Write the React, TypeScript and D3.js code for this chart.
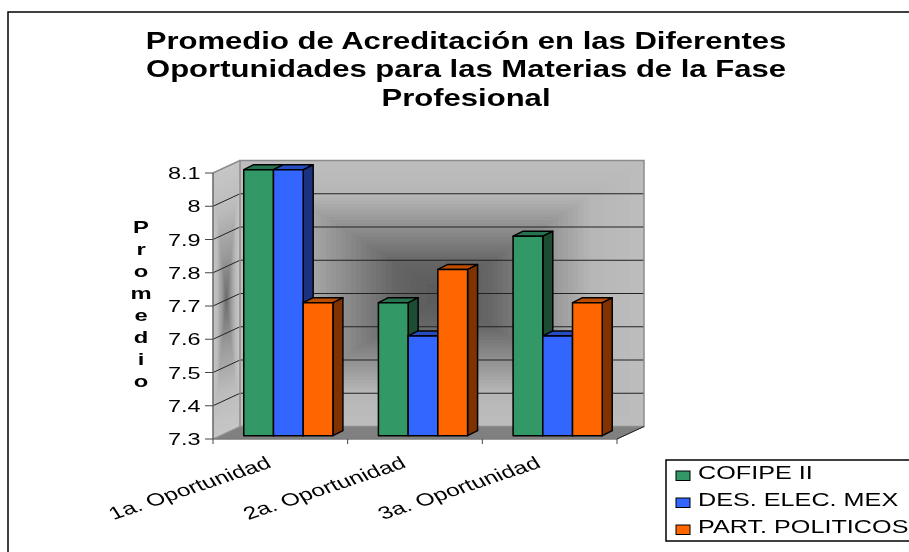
import React from "react";
import * as d3 from "d3";

const categories = ["1a. Oportunidad", "2a. Oportunidad", "3a. Oportunidad"];
const seriesNames = ["COFIPE II", "DES. ELEC. MEX", "PART. POLITICOS"];
const cofipe = [8.1, 7.7, 7.9];
const desElec = [8.1, 7.6, 7.6];
const partPol = [7.7, 7.8, 7.7];
const yTicks = [7.3, 7.4, 7.5, 7.6, 7.7, 7.8, 7.9, 8, 8.1];
const titleLines = [
  "Promedio de Acreditación en las Diferentes",
  "Oportunidades para las Materias de la Fase",
  "Profesional",
];
const axisLetters = ["P", "r", "o", "m", "e", "d", "i", "o"];
const fronts = ["#339966", "#3366FF", "#FF6600"];
const tops = ["#267350", "#264DBF", "#BF4D00"];
const sides = ["#1A4D33", "#1A3380", "#803300"];

const W = 909, H = 552;
const FONT = "'Liberation Sans', Arial, sans-serif";
const x0 = 213, x1 = 617, yB = 439, yT = 173;
const dx = 27, dy = -12.5;

const y = d3.scaleLinear().domain([7.3, 8.1]).range([yB, yT]);
const band = d3.scaleBand<string>().domain(categories).range([x0, x1]).paddingInner(0.338).paddingOuter(0.169);
const inner = d3.scaleBand<string>().domain(seriesNames).range([0, band.bandwidth()]);
const series = [cofipe, desElec, partPol];
const barDx = 8, barDy = -3.3, depthX = 10, depthY = -5;

const ramp = d3.scaleLinear<string>().domain([0, 0.25, 0.5, 0.75, 1]).range(["#bdbdbd", "#b6b6b6", "#8e8e8e", "#666666", "#585858"]);
const sideRamp = d3.scaleLinear<string>().domain([0, 0.3, 0.65, 1]).range(["#c6c6c6", "#bcbcbc", "#9a9a9a", "#6a6a6a"]);
const steps = d3.range(0, 1, 1 / 40);

const poly = (pts: [number, number][]) => pts.map((p) => p.join(",")).join(" ");

export default function App() {
  const wallL = x0 + dx, wallR = x1 + dx, wallT = yT + dy, wallB = yB + dy;
  const cx = (wallL + wallR) / 2, cy = (wallT + wallB) / 2;
  return (
    <svg width={W} height={H} viewBox={`0 0 ${W} ${H}`} style={{ position: "absolute", left: 0, top: 0, display: "block" }} fontFamily={FONT}>
      <defs>
        <filter id="soft" x="0" y="0" width="100%" height="100%">
          <feGaussianBlur stdDeviation="0.4" />
        </filter>
      </defs>
      <rect x={0} y={0} width={W} height={H} fill="#fff" />
      <g filter="url(#soft)">
        <rect x={0} y={0} width={W} height={H} fill="#fff" />
        <rect x={8} y={12} width={W + 10} height={H + 10} fill="#fff" stroke="#000" strokeWidth={1.5} />
        {titleLines.map((t, i) => (
          <text key={t} transform={`translate(466,${48.5 + i * 28.5}) scale(1.35,1)`} textAnchor="middle" fontSize={23} fontWeight="bold" fill="#000">{t}</text>
        ))}

        {/* back wall: rectangular gradient */}
        <rect x={wallL} y={wallT} width={wallR - wallL} height={wallB - wallT} fill={ramp(0)} />
        {steps.map((t) => (
          <rect key={t} x={wallL + t * (cx - wallL)} y={wallT + t * (cy - wallT)}
            width={(wallR - wallL) * (1 - t)} height={(wallB - wallT) * (1 - t)} fill={ramp(t)} />
        ))}
        {/* side wall */}
        <polygon points={poly([[x0, yT], [wallL, wallT], [wallL, wallB], [x0, yB]])} fill={sideRamp(0)} />
        {steps.map((t) => {
          const l = t * 0.5, sx = x0 + l * dx, ex = wallL - l * dx;
          const s = (v: number) => dy * ((v - x0) / dx);
          const top = yT + l * (yB - yT), bot = yB - l * (yB - yT);
          return <polygon key={t} points={poly([[sx, top + s(sx)], [ex, top + s(ex)], [ex, bot + s(ex)], [sx, bot + s(sx)]])} fill={sideRamp(t)} />;
        })}
        {/* floor */}
        <polygon points={poly([[x0, yB], [wallL, wallB], [wallR, wallB], [x1, yB]])} fill="#808080" stroke="#808080" />
        {/* gridlines */}
        {yTicks.filter((v) => v !== 7.3 && v !== 8.1).map((v) => (
          <polyline key={v} fill="none" stroke="#222" strokeWidth={1} points={poly([[x0, y(v)], [wallL, y(v) + dy], [wallR, y(v) + dy]])} />
        ))}
        <rect x={wallL} y={wallT} width={wallR - wallL} height={wallB - wallT} fill="none" stroke="#8c8c8c" strokeWidth={1.5} />
        <polyline points={poly([[x0, yT], [wallL, wallT]])} fill="none" stroke="#8c8c8c" strokeWidth={1.5} />
        <polyline points={poly([[x1, yB], [wallR, wallB]])} fill="none" stroke="#222" strokeWidth={1} />
        <polyline points={poly([[x0, yB], [wallL, wallB]])} fill="none" stroke="#999" strokeWidth={1} />

        {/* bars */}
        {categories.map((c, ci) => (
          <g key={c}>
            {seriesNames.map((s, si) => {
              const v = series[si][ci];
              const bx = band(c)! + inner(s)! + barDx;
              const bw = inner.bandwidth();
              const by = y(v) + barDy, b0 = y(7.3) + barDy;
              return (
                <g key={s} stroke="#000" strokeWidth={1.5} strokeLinejoin="round">
                  <polygon points={poly([[bx + bw, by], [bx + bw + depthX, by + depthY], [bx + bw + depthX, b0 + depthY], [bx + bw, b0]])} fill={sides[si]} />
                  <polygon points={poly([[bx, by], [bx + depthX, by + depthY], [bx + bw + depthX, by + depthY], [bx + bw, by]])} fill={tops[si]} />
                  <rect x={bx} y={by} width={bw} height={b0 - by} fill={fronts[si]} />
                </g>
              );
            })}
          </g>
        ))}

        {/* axes */}
        <line x1={x0} x2={x0} y1={yT} y2={yB} stroke="#666" strokeWidth={1.5} />
        <line x1={x0} x2={x1} y1={yB} y2={yB} stroke="#777" strokeWidth={1.2} />
        {yTicks.map((v) => (
          <g key={v}>
            <line x1={x0 - 8} x2={x0} y1={y(v)} y2={y(v)} stroke="#444" strokeWidth={1} />
            <text transform={`translate(200.5,${y(v) + 6}) scale(1.38,1)`} textAnchor="end" fontSize={17} fill="#000">{d3.format("~r")(v)}</text>
          </g>
        ))}
        {d3.range(0, categories.length + 1).map((i) => {
          const tx = x0 + (i * (x1 - x0)) / categories.length;
          return <line key={i} x1={tx} x2={tx} y1={yB} y2={yB + 5} stroke="#444" strokeWidth={1} />;
        })}
        {categories.map((c, i) => {
          const tx = x0 + ((i + 1) * (x1 - x0)) / categories.length - 75;
          return (
            <text key={c} transform={`translate(${tx},${yB + 28}) scale(1.4,1) rotate(-25)`} textAnchor="end" fontSize={17.5} fill="#000">{c}</text>
          );
        })}
        {axisLetters.map((l, i) => (
          <text key={i} transform={`translate(141,${233 + i * 22}) scale(1.4,1)`} textAnchor="middle" fontSize={17} fontWeight="bold" fill="#000">{l}</text>
        ))}

        {/* legend */}
        <rect x={666} y={460} width={W} height={81} fill="#fff" stroke="#000" strokeWidth={1.5} />
        {seriesNames.map((s, i) => (
          <g key={s}>
            <rect x={676} y={471 + i * 27} width={14} height={9.5} fill={fronts[i]} stroke="#000" strokeWidth={1} />
            <text transform={`translate(698,${479 + i * 27}) scale(1.44,1)`} fontSize={17.5} fill="#000">{s}</text>
          </g>
        ))}
      </g>
    </svg>
  );
}
